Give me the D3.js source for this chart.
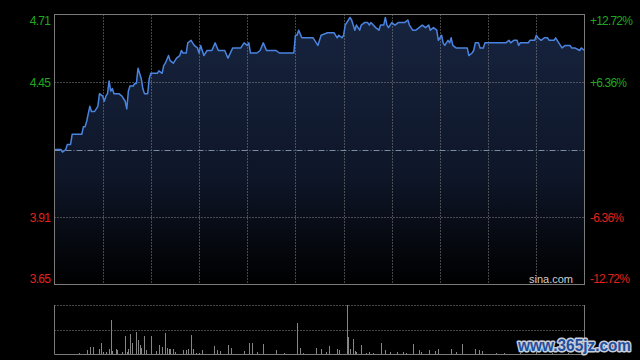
<!DOCTYPE html>
<html>
<head>
<meta charset="utf-8">
<script src="https://cdn.jsdelivr.net/npm/d3@7"></script>
<style>
  html, body { margin: 0; padding: 0; background: #000; }
  svg { display: block; }
  text { font-family: "Liberation Sans", Arial, sans-serif; }
</style>
</head>
<body>
<svg id="chart" width="640" height="360"></svg>
<script>
// intraday data, minutes from 9:30 (HK session, 330 minutes incl. lunch join)
const prevClose = 4.18;
const maxPct = 0.1272;
const priceMinutes = [0, 4, 5, 7, 8, 10, 11, 17, 18, 19, 20, 21, 22, 23, 25, 27, 28, 30, 31, 32, 33, 34, 35, 36, 37, 40, 42, 44, 45, 46, 47, 49, 50, 51, 52, 54, 55, 56, 58, 59, 60, 64, 65, 67, 68, 69, 71, 72, 74, 76, 78, 79, 80, 82, 83, 85, 87, 89, 90, 91, 93, 95, 98, 100, 102, 106, 108, 111, 116, 118, 120, 121, 122, 126, 128, 130, 132, 134, 138, 140, 149, 150, 151, 152, 154, 161, 162, 164, 166, 170, 174, 176, 177, 179, 180, 181, 183, 184, 185, 187, 188, 189, 190, 191, 193, 195, 196, 197, 200, 202, 203, 205, 206, 207, 208, 210, 212, 214, 218, 220, 221, 223, 225, 229, 231, 233, 234, 236, 238, 239, 241, 242, 243, 245, 246, 247, 248, 250, 257, 258, 260, 261, 262, 264, 265, 267, 268, 281, 283, 284, 286, 288, 289, 290, 295, 296, 299, 300, 301, 303, 305, 307, 308, 311, 312, 314, 316, 318, 321, 322, 324, 327, 328, 330];
const prices = [4.18, 4.18, 4.17, 4.18, 4.20, 4.20, 4.24, 4.24, 4.27, 4.27, 4.29, 4.32, 4.35, 4.33, 4.33, 4.35, 4.40, 4.39, 4.37, 4.39, 4.40, 4.45, 4.41, 4.42, 4.40, 4.40, 4.39, 4.37, 4.34, 4.41, 4.43, 4.43, 4.44, 4.44, 4.50, 4.46, 4.42, 4.40, 4.40, 4.46, 4.48, 4.48, 4.49, 4.48, 4.51, 4.52, 4.55, 4.53, 4.52, 4.54, 4.55, 4.57, 4.56, 4.56, 4.60, 4.61, 4.59, 4.58, 4.56, 4.59, 4.55, 4.57, 4.57, 4.60, 4.57, 4.57, 4.54, 4.58, 4.58, 4.60, 4.59, 4.60, 4.56, 4.56, 4.57, 4.60, 4.57, 4.57, 4.57, 4.56, 4.56, 4.63, 4.63, 4.65, 4.62, 4.62, 4.61, 4.59, 4.63, 4.64, 4.64, 4.62, 4.63, 4.62, 4.63, 4.67, 4.69, 4.70, 4.69, 4.65, 4.67, 4.66, 4.65, 4.67, 4.68, 4.68, 4.67, 4.68, 4.66, 4.65, 4.67, 4.67, 4.70, 4.67, 4.66, 4.68, 4.67, 4.68, 4.68, 4.69, 4.67, 4.65, 4.65, 4.67, 4.66, 4.67, 4.65, 4.66, 4.65, 4.61, 4.63, 4.60, 4.59, 4.61, 4.60, 4.62, 4.59, 4.58, 4.58, 4.55, 4.56, 4.57, 4.60, 4.60, 4.58, 4.58, 4.60, 4.60, 4.61, 4.60, 4.61, 4.61, 4.59, 4.60, 4.60, 4.61, 4.61, 4.63, 4.62, 4.61, 4.62, 4.62, 4.61, 4.61, 4.62, 4.60, 4.58, 4.59, 4.59, 4.58, 4.58, 4.57, 4.58, 4.57];

const volMinutes = [4, 10, 15, 20, 22, 24, 28, 29, 30, 32, 34, 35, 36, 38, 39, 42, 44, 45, 46, 47, 48, 51, 52, 53, 54, 56, 57, 60, 63, 65, 67, 69, 70, 71, 72, 74, 75, 80, 82, 83, 85, 86, 88, 90, 92, 99, 101, 103, 108, 110, 118, 121, 123, 126, 130, 138, 143, 151, 153, 155, 163, 166, 169, 171, 176, 177, 182, 183, 184, 186, 187, 188, 191, 194, 196, 198, 203, 206, 209, 213, 217, 219, 223, 227, 228, 233, 237, 239, 247, 250, 254, 262, 264, 266, 275, 280, 290, 300, 310, 320, 328];
const volumes = [30, 30, 50, 130, 230, 230, 160, 350, 80, 80, 180, 1030, 100, 160, 130, 80, 560, 80, 180, 610, 350, 670, 430, 280, 200, 560, 130, 560, 100, 280, 230, 650, 200, 160, 160, 180, 80, 130, 130, 160, 580, 180, 50, 60, 130, 250, 130, 100, 280, 200, 100, 350, 350, 80, 310, 130, 50, 950, 200, 50, 200, 160, 80, 250, 160, 130, 1490, 530, 160, 460, 100, 80, 280, 60, 80, 60, 360, 130, 80, 80, 80, 50, 330, 130, 80, 130, 100, 160, 180, 80, 310, 180, 130, 110, 60, 40, 50, 70, 40, 60, 90];

const leftLabels = ['4.71', '4.45', '3.91', '3.65'];
const rightLabels = ['+12.72%', '+6.36%', '-6.36%', '-12.72%'];
const gridPcts = [maxPct, maxPct / 2, -maxPct / 2, -maxPct];

const svg = d3.select('#chart');
const plot = { left: 54.5, right: 584.5, top: 14.5, bottom: 284.5 };
const volPlot = { top: 305, bottom: 354.5 };

const x = d3.scaleLinear().domain([0, 330]).range([plot.left, plot.right]);
const y = d3.scaleLinear()
  .domain([prevClose * (1 - maxPct), prevClose * (1 + maxPct)])
  .range([plot.bottom, plot.top]);
const yVol = d3.scaleLinear().domain([0, d3.max(volumes)]).range([volPlot.bottom, volPlot.top]);

const series = priceMinutes.map((m, i) => ({ m: m, p: prices[i] }));

// gradient under the line
const grad = svg.append('defs').append('linearGradient')
  .attr('id', 'fillGrad')
  .attr('gradientUnits', 'userSpaceOnUse')
  .attr('x1', 0).attr('x2', 0)
  .attr('y1', plot.top).attr('y2', plot.bottom);
grad.append('stop').attr('offset', '0%').attr('stop-color', '#17243f');
grad.append('stop').attr('offset', '60%').attr('stop-color', '#0e1628');
grad.append('stop').attr('offset', '100%').attr('stop-color', '#000');

svg.append('path')
  .datum(series)
  .attr('fill', 'url(#fillGrad)')
  .attr('d', d3.area().x(d => x(d.m)).y0(plot.bottom).y1(d => y(d.p)));

// vertical grid every 30 min
const gridMinutes = d3.range(30, 330, 30);
svg.append('g').selectAll('line')
  .data(gridMinutes)
  .enter()
  .append('line')
  .attr('x1', d => Math.round(x(d)) + 0.5)
  .attr('x2', d => Math.round(x(d)) + 0.5)
  .attr('y1', plot.top).attr('y2', plot.bottom)
  .attr('stroke', '#8a8a8a')
  .attr('stroke-dasharray', '1,2');

// horizontal grid at +/- half range
svg.append('g').selectAll('line')
  .data([maxPct / 2, -maxPct / 2])
  .enter()
  .append('line')
  .attr('x1', plot.left).attr('x2', plot.right)
  .attr('y1', d => Math.round(y(prevClose * (1 + d))) + 0.5)
  .attr('y2', d => Math.round(y(prevClose * (1 + d))) + 0.5)
  .attr('stroke', '#8a8a8a')
  .attr('stroke-dasharray', '1,2');

// previous close
svg.append('line')
  .attr('x1', plot.left).attr('x2', plot.right)
  .attr('y1', Math.round(y(prevClose)) + 0.5)
  .attr('y2', Math.round(y(prevClose)) + 0.5)
  .attr('stroke', '#7d8ba0')
  .attr('stroke-dasharray', '6,2,1,2');

svg.append('path')
  .datum(series)
  .attr('fill', 'none')
  .attr('stroke', '#4a84e0')
  .attr('stroke-width', 1.5)
  .attr('stroke-linejoin', 'round')
  .attr('d', d3.line().x(d => x(d.m)).y(d => y(d.p)));

svg.append('rect')
  .attr('x', plot.left).attr('y', plot.top)
  .attr('width', plot.right - plot.left).attr('height', plot.bottom - plot.top)
  .attr('fill', 'none')
  .attr('stroke', '#7a7a7a');

// price / percent labels
const labelY = (d, i) => {
  const yy = y(prevClose * (1 + d));
  if (i === 0) return yy + 10;
  if (i === gridPcts.length - 1) return yy - 1.5;
  return yy + 4.5;
};
const labelColor = d => (d > 0 ? '#1fa81f' : '#e0221c');

svg.append('g').selectAll('text')
  .data(gridPcts)
  .enter()
  .append('text')
  .attr('x', 50)
  .attr('y', labelY)
  .attr('text-anchor', 'end')
  .attr('font-size', 12)
  .attr('letter-spacing', -0.8)
  .attr('fill', labelColor)
  .text((d, i) => leftLabels[i]);

svg.append('g').selectAll('text')
  .data(gridPcts)
  .enter()
  .append('text')
  .attr('x', 590)
  .attr('y', labelY)
  .attr('font-size', 12)
  .attr('letter-spacing', -0.8)
  .attr('fill', labelColor)
  .text((d, i) => rightLabels[i]);

svg.append('text')
  .attr('x', 573)
  .attr('y', 283)
  .attr('text-anchor', 'end')
  .attr('font-size', 11)
  .attr('fill', '#cfcfcf')
  .text('sina.com');

// volume panel
svg.append('g').selectAll('line')
  .data([volPlot.top, (volPlot.top + volPlot.bottom) / 2])
  .enter()
  .append('line')
  .attr('x1', plot.left).attr('x2', plot.right)
  .attr('y1', d => Math.round(d) + 0.5).attr('y2', d => Math.round(d) + 0.5)
  .attr('stroke', '#8a8a8a')
  .attr('stroke-dasharray', '1,2');

svg.append('g').selectAll('rect')
  .data(volMinutes)
  .enter()
  .append('rect')
  .attr('x', d => Math.round(x(d)))
  .attr('y', (d, i) => yVol(volumes[i]))
  .attr('width', 1)
  .attr('height', (d, i) => volPlot.bottom - yVol(volumes[i]))
  .attr('fill', '#858585')
  .attr('shape-rendering', 'crispEdges');

svg.append('path')
  .attr('d', `M${plot.left},${volPlot.top}V${volPlot.bottom}H${plot.right}V${volPlot.top}`)
  .attr('fill', 'none')
  .attr('stroke', '#7a7a7a');

// watermark
svg.append('text')
  .attr('x', 518)
  .attr('y', 351)
  .attr('font-size', 16)
  .attr('font-weight', 'bold')
  .attr('textLength', 113)
  .attr('lengthAdjust', 'spacingAndGlyphs')
  .attr('fill', '#1f4f9e')
  .attr('stroke', '#c8ced8')
  .attr('stroke-width', 3)
  .attr('paint-order', 'stroke')
  .attr('stroke-linejoin', 'round')
  .text('www.365jz.com');
</script>
</body>
</html>
